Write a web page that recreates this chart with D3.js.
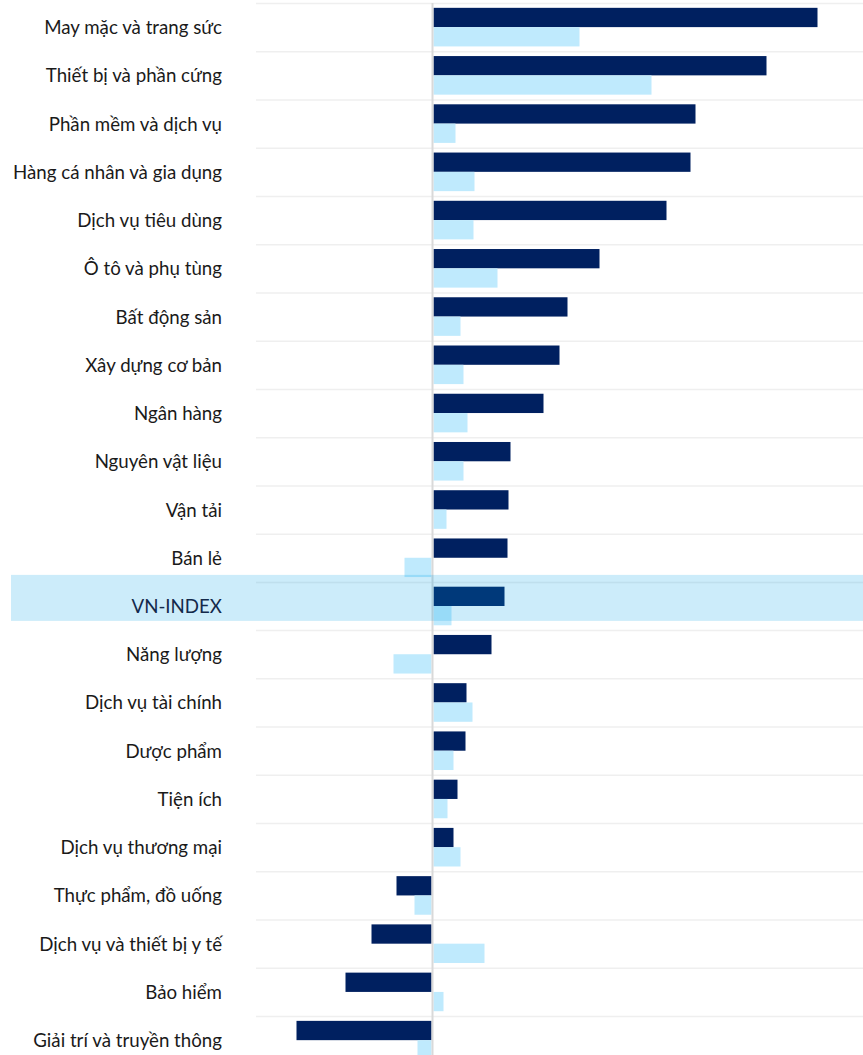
<!DOCTYPE html>
<html><head><meta charset="utf-8">
<script src="https://cdn.jsdelivr.net/npm/d3@7/dist/d3.min.js"></script>
<style>html,body{margin:0;padding:0;background:#fff;}svg{display:block;}</style>
</head><body>
<script>
const categories = ["May mặc và trang sức","Thiết bị và phần cứng","Phần mềm và dịch vụ","Hàng cá nhân và gia dụng","Dịch vụ tiêu dùng","Ô tô và phụ tùng","Bất động sản","Xây dựng cơ bản","Ngân hàng","Nguyên vật liệu","Vận tải","Bán lẻ","VN-INDEX","Năng lượng","Dịch vụ tài chính","Dược phẩm","Tiện ích","Dịch vụ thương mại","Thực phẩm, đồ uống","Dịch vụ và thiết bị y tế","Bảo hiểm","Giải trí và truyền thông"];
const seriesA = [38.4,33.3,26.2,25.7,23.3,16.6,13.4,12.6,11.0,7.7,7.5,7.4,7.1,5.8,3.3,3.2,2.4,2.0,-3.5,-6.0,-8.6,-13.5];
const seriesB = [14.6,21.8,2.2,4.1,4.0,6.4,2.7,3.0,3.4,3.0,1.3,-2.7,1.8,-3.8,3.9,2.0,1.4,2.7,-1.7,5.1,1.0,-1.4];
const seriesNames = ["A","B"];
const highlight = "VN-INDEX";

const W = 863, H = 1055;
const svg = d3.select("body").append("svg").attr("width", W).attr("height", H);

const x = d3.scaleLinear().domain([-17.65, 43.05]).range([256, 863]);
const step = 48.24;
const y = d3.scaleBand().domain(categories).range([3, 3 + categories.length * step]).paddingInner(0.2).paddingOuter(0.1);
const ySub = d3.scaleBand().domain(seriesNames).range([0, y.bandwidth()]);
const colors = {A: "#002060", B: "#bfeafd"};
const rowTop = c => y(c) - y.step() * 0.1;

// gridlines
svg.append("g").selectAll("line").data(categories).join("line")
  .attr("x1", 256).attr("x2", W)
  .attr("y1", d => rowTop(d) + 0.5).attr("y2", d => rowTop(d) + 0.5)
  .attr("stroke", "#efefef").attr("stroke-width", 1.5);

const data = categories.map((c, i) => ({c, A: seriesA[i], B: seriesB[i]}));
const zero = x(0);
const g = svg.append("g");
seriesNames.forEach(s => {
  g.selectAll(".bar" + s).data(data).join("rect")
    .attr("x", d => d[s] >= 0 ? zero + 1 : x(d[s]) - 1)
    .attr("width", d => Math.abs(x(d[s]) - zero))
    .attr("y", d => y(d.c) + ySub(s))
    .attr("height", ySub.bandwidth())
    .attr("fill", colors[s]);
});

// zero line
svg.append("line").attr("x1", zero).attr("x2", zero).attr("y1", 3).attr("y2", H)
  .attr("stroke", "#d9d9d9").attr("stroke-width", 2);

// highlight band
svg.append("rect").attr("x", 11).attr("width", W - 11)
  .attr("y", rowTop(highlight) - 7).attr("height", 46)
  .attr("fill", "rgb(0,158,228)").attr("opacity", 0.2);

// labels
svg.append("g").selectAll("text").data(categories).join("text")
  .attr("x", 222).attr("y", d => rowTop(d) + step / 2)
  .attr("text-anchor", "end").attr("dominant-baseline", "central")
  .attr("font-family", "Lato, 'Open Sans', sans-serif").attr("font-size", 18.7)
  .attr("fill", d => d === highlight ? "#13294b" : "#1a1a1a")
  .text(d => d);
</script>
</body></html>
